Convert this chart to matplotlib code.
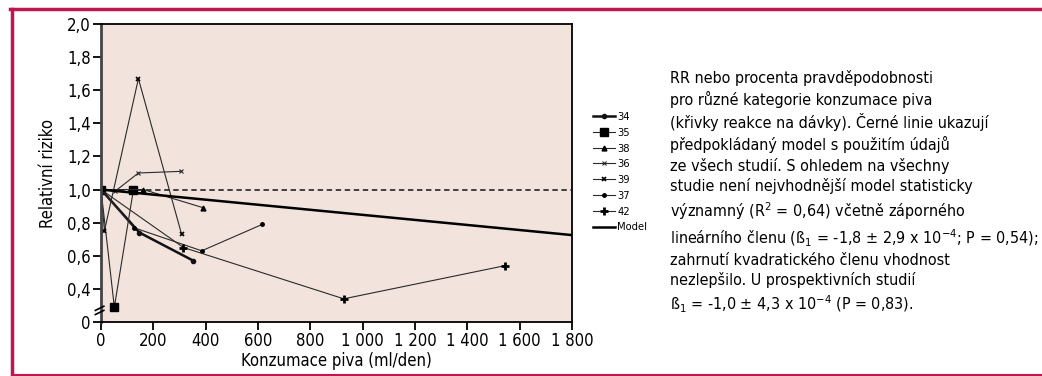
import matplotlib
matplotlib.use("Agg")
import matplotlib.pyplot as plt
from matplotlib.lines import Line2D
from matplotlib import font_manager

# --- font: narrow sans when available
names = set(f.name for f in font_manager.fontManager.ttflist)
fnt = 'Liberation Sans Narrow' if 'Liberation Sans Narrow' in names else 'DejaVu Sans'
plt.rcParams['font.family'] = [fnt, 'DejaVu Sans']
plt.rcParams['font.stretch'] = 'condensed'
plt.rcParams['mathtext.fontset'] = 'custom'
plt.rcParams['mathtext.rm'] = fnt
plt.rcParams['mathtext.it'] = fnt
plt.rcParams['mathtext.default'] = 'regular'

# --- data
x34 = [0, 147, 353]
y34 = [1.0, 0.74, 0.57]
x35 = [0, 51, 124]
y35 = [1.0, 0.29, 1.0]
x38 = [0, 162, 391]
y38 = [1.0, 1.0, 0.89]
x36 = [0, 54, 143, 306]
y36 = [1.0, 0.99, 1.10, 1.11]
x39 = [0, 13, 143, 308]
y39 = [1.0, 0.75, 1.67, 0.73]
x37 = [0, 125, 385, 617]
y37 = [1.0, 0.77, 0.63, 0.79]
x42 = [0, 315, 928, 1543]
y42 = [1.0, 0.65, 0.34, 0.54]
x_model = [0, 1800]
y_model = [1.0, 0.725]

x_ticks = [0, 200, 400, 600, 800, 1000, 1200, 1400, 1600, 1800]
x_tick_lbl = ['0', '200', '400', '600', '800', '1 000', '1 200', '1 400', '1 600', '1 800']
y_ticks = [0.2, 0.4, 0.6, 0.8, 1.0, 1.2, 1.4, 1.6, 1.8, 2.0]
y_tick_lbl = ['0', '0,4', '0,6', '0,8', '1,0', '1,2', '1,4', '1,6', '1,8', '2,0']

popis = ("RR nebo procenta pravděpodobnosti\n"
         "pro různé kategorie konzumace piva\n"
         "(křivky reakce na dávky). Černé linie ukazují\n"
         "předpokládaný model s použitím údajů\n"
         "ze všech studií. S ohledem na všechny\n"
         "studie není nejvhodnější model statisticky\n"
         "významný (R$^2$ = 0,64) včetně záporného\n"
         "lineárního členu (ß$_1$ = -1,8 ± 2,9 x 10$^{-4}$; P = 0,54);\n"
         "zahrnutí kvadratického členu vhodnost\n"
         "nezlepšilo. U prospektivních studií\n"
         "ß$_1$ = -1,0 ± 4,3 x 10$^{-4}$ (P = 0,83).")

W, H = 1042, 376
fig = plt.figure(figsize=(W / 100, H / 100), dpi=100)
ax = fig.add_axes([101 / W, 1 - 322 / H, 471 / W, 298 / H])
ax.set_facecolor('#f2e3dc')

clr = '#2a2a2a'
ax.axhline(1.0, color='#333333', lw=1.3, ls=(0, (3, 2)), zorder=1)
ax.plot(x34, y34, color='#111111', lw=1.8, marker='o', ms=3, label='34')
ax.plot(x35, y35, color=clr, lw=0.8, marker='s', ms=5.5, mfc='k', mec='k', label='35')
ax.plot(x38, y38, color=clr, lw=0.8, marker='^', ms=3.5, mfc='k', mec='k', label='38')
ax.plot(x36, y36, color=clr, lw=0.8, marker='x', ms=3, mew=0.8, label='36')
ax.plot(x39, y39, color=clr, lw=0.8, marker='x', ms=3.5, mew=1.2, mec='k', label='39')
ax.plot(x37, y37, color=clr, lw=0.8, marker='o', ms=2.5, mfc='k', mec='k', label='37')
ax.plot(x42, y42, color=clr, lw=0.8, marker='+', ms=6, mew=2, mec='k', label='42')
ax.plot(x_model, y_model, color='k', lw=1.8, label='Model')

ax.set_xlim(0, 1800)
ax.set_ylim(0.2, 2.0)
ax.set_xticks(x_ticks)
ax.set_xticklabels(x_tick_lbl)
ax.set_yticks(y_ticks)
ax.set_yticklabels(y_tick_lbl)
ax.tick_params(axis='both', direction='out', length=6, width=1.3, labelsize=12, pad=1.5)
ax.set_xlabel('Konzumace piva (ml/den)', fontsize=12, labelpad=1)
ax.set_ylabel('Relativní riziko', fontsize=12, labelpad=7)

for s in ['top', 'right', 'bottom']:
    ax.spines[s].set_color('k')
    ax.spines[s].set_linewidth(1.3)
ax.spines['left'].set_color('#444444')
ax.spines['left'].set_linewidth(2)

# znacka preruseni osy y
tr = ax.get_yaxis_transform()
for dy in (0.0, 0.025):
    ax.plot([-0.012, 0.006], [0.245 + dy, 0.27 + dy], transform=tr,
            color='k', lw=1.2, clip_on=False, zorder=5)

leg = ax.legend(loc='upper left', bbox_to_anchor=(593 / W, 1 - 112 / H),
                bbox_transform=fig.transFigure, frameon=False, fontsize=8,
                handlelength=2.0, handletextpad=0.2, labelspacing=0.52,
                borderpad=0, borderaxespad=0)

fig.text(670 / W, 1 - 70 / H, popis, fontsize=11.5, va='top', ha='left',
         linespacing=1.35)

# ramecek
rc = '#c0164e'
fig.add_artist(Line2D([10 / W, 1], [1 - 9 / H, 1 - 9 / H], color=rc, lw=2.5))
fig.add_artist(Line2D([12 / W, 12 / W], [1 - 9 / H, 1 - 375 / H], color=rc, lw=2.5))
fig.add_artist(Line2D([12 / W, 1], [1 - 375 / H, 1 - 375 / H], color=rc, lw=1.5))

fig.savefig('out.png', dpi=100, facecolor='white')
